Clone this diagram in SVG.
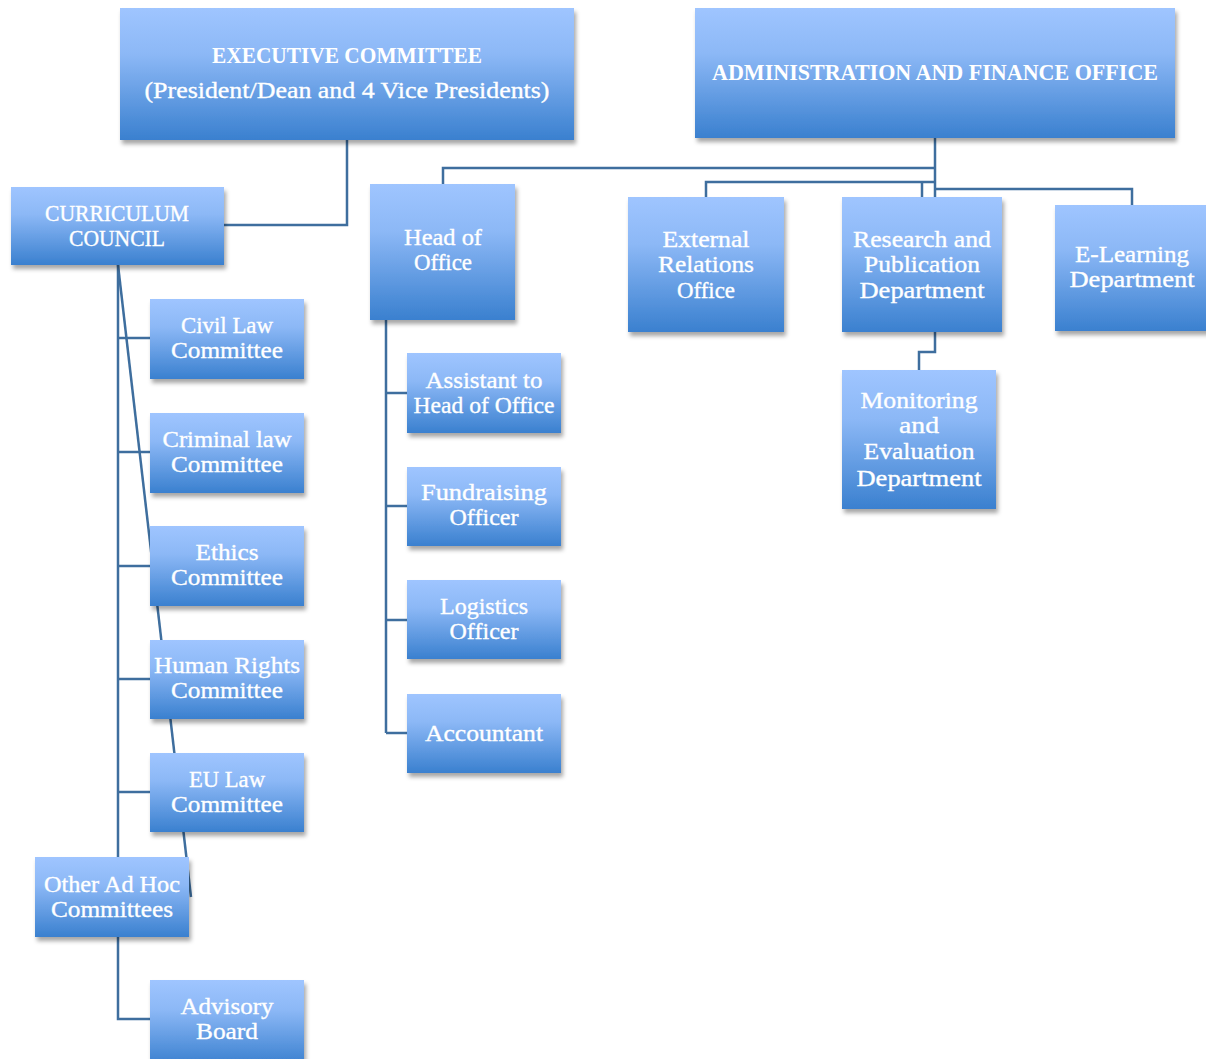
<svg xmlns="http://www.w3.org/2000/svg" width="1206" height="1059" viewBox="0 0 1206 1059">
<defs>
<linearGradient id="g" x1="0" y1="0" x2="0" y2="1">
<stop offset="0" stop-color="#9fc5ff"/>
<stop offset="0.35" stop-color="#8cb8f6"/>
<stop offset="1" stop-color="#3a80cf"/>
</linearGradient>
<filter id="sh" x="-10%" y="-10%" width="125%" height="130%">
<feDropShadow dx="2" dy="4" stdDeviation="2.2" flood-color="#000" flood-opacity="0.35"/>
</filter>
<style>
.b{fill:url(#g);filter:url(#sh)}
.t{font-family:"Liberation Serif","DejaVu Serif",serif;font-size:24px;fill:#fff;stroke:#fff;stroke-width:0.35;text-anchor:middle}
.h{font-weight:bold;font-size:24px;stroke-width:0}
.c{fill:none;stroke:#3e6e9e;stroke-width:2.5}
</style>
</defs>
<rect width="1206" height="1059" fill="#fff"/>
<g id="connectors" class="c">
<polyline points="347,140 347,225 224,225"/>
<line x1="118" y1="265" x2="118" y2="857"/>
<line x1="118" y1="338" x2="150" y2="338"/>
<line x1="118" y1="452" x2="150" y2="452"/>
<line x1="118" y1="566" x2="150" y2="566"/>
<line x1="118" y1="679" x2="150" y2="679"/>
<line x1="118" y1="792" x2="150" y2="792"/>
<line x1="118" y1="265" x2="191" y2="897"/>
<polyline points="118,937 118,1019 150,1019"/>
<line x1="386" y1="320" x2="386" y2="733"/>
<line x1="386" y1="393" x2="407" y2="393"/>
<line x1="386" y1="506" x2="407" y2="506"/>
<line x1="386" y1="620" x2="407" y2="620"/>
<line x1="386" y1="733" x2="407" y2="733"/>
<line x1="935" y1="138" x2="935" y2="197"/>
<polyline points="935,168 443,168 443,184"/>
<polyline points="935,182 706,182 706,197"/>
<line x1="922" y1="182" x2="922" y2="197"/>
<polyline points="935,189 1132,189 1132,205"/>
<polyline points="935,332 935,352 919,352 919,370"/>
</g>
<g id="exec">
<rect class="b" x="120" y="8" width="454" height="132"/>
<text class="t h" x="347" y="63" textLength="270" lengthAdjust="spacingAndGlyphs">EXECUTIVE COMMITTEE</text>
<text class="t" x="347" y="98" textLength="405" lengthAdjust="spacingAndGlyphs">(President/Dean and 4 Vice Presidents)</text>
</g>
<g id="admin">
<rect class="b" x="695" y="8" width="480" height="130"/>
<text class="t h" x="935" y="80" textLength="446" lengthAdjust="spacingAndGlyphs">ADMINISTRATION AND FINANCE OFFICE</text>
</g>
<g id="curriculum">
<rect class="b" x="11" y="187" width="213" height="78"/>
<text class="t" x="117" y="221" textLength="144" lengthAdjust="spacingAndGlyphs">CURRICULUM</text>
<text class="t" x="117" y="246" textLength="96" lengthAdjust="spacingAndGlyphs">COUNCIL</text>
</g>
<g id="headoffice">
<rect class="b" x="370" y="184" width="145" height="136"/>
<text class="t" x="443" y="245" textLength="78" lengthAdjust="spacingAndGlyphs">Head of</text>
<text class="t" x="443" y="270" textLength="58" lengthAdjust="spacingAndGlyphs">Office</text>
</g>
<g id="external">
<rect class="b" x="628" y="197" width="156" height="135"/>
<text class="t" x="706" y="247" textLength="87" lengthAdjust="spacingAndGlyphs">External</text>
<text class="t" x="706" y="272" textLength="96" lengthAdjust="spacingAndGlyphs">Relations</text>
<text class="t" x="706" y="298" textLength="58" lengthAdjust="spacingAndGlyphs">Office</text>
</g>
<g id="research">
<rect class="b" x="842" y="197" width="160" height="135"/>
<text class="t" x="922" y="247" textLength="138" lengthAdjust="spacingAndGlyphs">Research and</text>
<text class="t" x="922" y="272" textLength="116" lengthAdjust="spacingAndGlyphs">Publication</text>
<text class="t" x="922" y="298" textLength="125" lengthAdjust="spacingAndGlyphs">Department</text>
</g>
<g id="elearning">
<rect class="b" x="1055" y="205" width="156" height="126"/>
<text class="t" x="1132" y="262" textLength="114" lengthAdjust="spacingAndGlyphs">E-Learning</text>
<text class="t" x="1132" y="287" textLength="125" lengthAdjust="spacingAndGlyphs">Department</text>
</g>
<g id="monitoring">
<rect class="b" x="842" y="370" width="154" height="139"/>
<text class="t" x="919" y="408" textLength="117" lengthAdjust="spacingAndGlyphs">Monitoring</text>
<text class="t" x="919" y="433" textLength="40" lengthAdjust="spacingAndGlyphs">and</text>
<text class="t" x="919" y="459" textLength="111" lengthAdjust="spacingAndGlyphs">Evaluation</text>
<text class="t" x="919" y="486" textLength="125" lengthAdjust="spacingAndGlyphs">Department</text>
</g>
<g id="civil">
<rect class="b" x="150" y="299" width="154" height="80"/>
<text class="t" x="227" y="333" textLength="92" lengthAdjust="spacingAndGlyphs">Civil Law</text>
<text class="t" x="227" y="358" textLength="112" lengthAdjust="spacingAndGlyphs">Committee</text>
</g>
<g id="criminal">
<rect class="b" x="150" y="413" width="154" height="80"/>
<text class="t" x="227" y="447" textLength="129" lengthAdjust="spacingAndGlyphs">Criminal law</text>
<text class="t" x="227" y="472" textLength="112" lengthAdjust="spacingAndGlyphs">Committee</text>
</g>
<g id="ethics">
<rect class="b" x="150" y="526" width="154" height="80"/>
<text class="t" x="227" y="560" textLength="63" lengthAdjust="spacingAndGlyphs">Ethics</text>
<text class="t" x="227" y="585" textLength="112" lengthAdjust="spacingAndGlyphs">Committee</text>
</g>
<g id="humanrights">
<rect class="b" x="150" y="640" width="154" height="79"/>
<text class="t" x="227" y="673" textLength="146" lengthAdjust="spacingAndGlyphs">Human Rights</text>
<text class="t" x="227" y="698" textLength="112" lengthAdjust="spacingAndGlyphs">Committee</text>
</g>
<g id="eulaw">
<rect class="b" x="150" y="753" width="154" height="79"/>
<text class="t" x="227" y="787" textLength="76" lengthAdjust="spacingAndGlyphs">EU Law</text>
<text class="t" x="227" y="812" textLength="112" lengthAdjust="spacingAndGlyphs">Committee</text>
</g>
<g id="adhoc">
<rect class="b" x="35" y="857" width="154" height="80"/>
<text class="t" x="112" y="892" textLength="136" lengthAdjust="spacingAndGlyphs">Other Ad Hoc</text>
<text class="t" x="112" y="917" textLength="122" lengthAdjust="spacingAndGlyphs">Committees</text>
</g>
<g id="advisory">
<rect class="b" x="150" y="980" width="154" height="85"/>
<text class="t" x="227" y="1014" textLength="93" lengthAdjust="spacingAndGlyphs">Advisory</text>
<text class="t" x="227" y="1039" textLength="62" lengthAdjust="spacingAndGlyphs">Board</text>
</g>
<g id="assistant">
<rect class="b" x="407" y="353" width="154" height="80"/>
<text class="t" x="484" y="388" textLength="117" lengthAdjust="spacingAndGlyphs">Assistant to</text>
<text class="t" x="484" y="413" textLength="141" lengthAdjust="spacingAndGlyphs">Head of Office</text>
</g>
<g id="fundraising">
<rect class="b" x="407" y="467" width="154" height="79"/>
<text class="t" x="484" y="500" textLength="126" lengthAdjust="spacingAndGlyphs">Fundraising</text>
<text class="t" x="484" y="525" textLength="69" lengthAdjust="spacingAndGlyphs">Officer</text>
</g>
<g id="logistics">
<rect class="b" x="407" y="580" width="154" height="79"/>
<text class="t" x="484" y="614" textLength="88" lengthAdjust="spacingAndGlyphs">Logistics</text>
<text class="t" x="484" y="639" textLength="69" lengthAdjust="spacingAndGlyphs">Officer</text>
</g>
<g id="accountant">
<rect class="b" x="407" y="694" width="154" height="79"/>
<text class="t" x="484" y="741" textLength="118" lengthAdjust="spacingAndGlyphs">Accountant</text>
</g>
</svg>
